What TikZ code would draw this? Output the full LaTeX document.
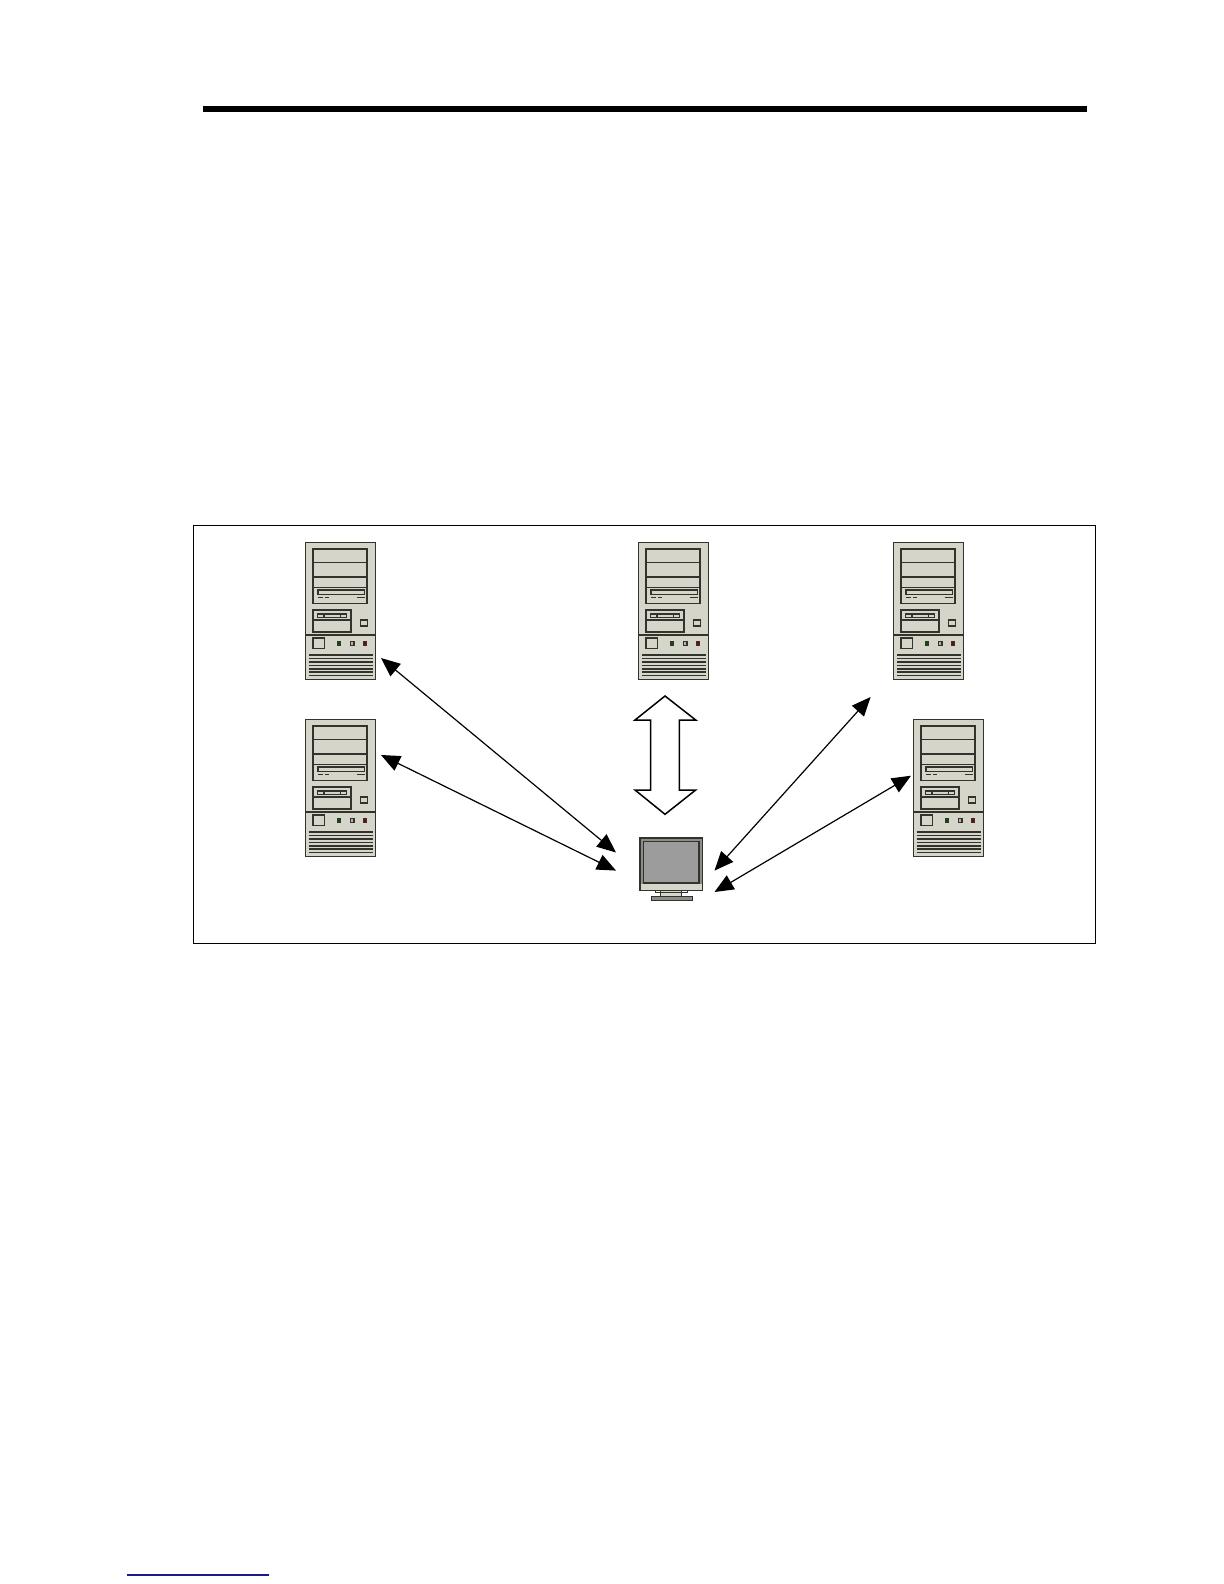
\documentclass[tikz,border=0pt]{standalone}
\usetikzlibrary{arrows.meta}
\definecolor{case}{HTML}{D5D5C9}
\definecolor{edge}{HTML}{33332E}
\definecolor{screen}{HTML}{9C9C9C}
\definecolor{bezel}{HTML}{8C8C88}
\definecolor{rulerblue}{HTML}{1A1A8C}
\tikzset{
  towerline/.style={draw=edge,line width=0.72pt},
  thinline/.style={draw=edge,line width=0.72pt},
  towerbox/.style={draw=edge,line width=0.9pt,fill=case},
  link/.style={draw=black,line width=0.6pt,{Triangle[length=9.5pt,width=8pt]}-{Triangle[length=9.5pt,width=8pt]}},
  bigarrow/.style={draw=black,line width=0.75pt,fill=white,line join=miter},
  anchorbox/.style={minimum width=35pt,minimum height=68.5pt,inner sep=0pt,outer sep=0pt,anchor=north west}
}
\newcommand{\towerat}[3]{%
  \node[anchorbox] (#3) at (#1,#2) {};
  \begin{scope}[shift={(#1,#2)}]
    \draw[towerbox] (0,0) rectangle (70,137);
    \draw[towerline] (7.3,6.7) rectangle (61.7,61);
    \draw[towerline] (7.3,20) -- (61.7,20) (7.3,34.3) -- (61.7,34.3) (7.3,45) -- (61.7,45);
    \draw[towerline,fill=case] (12.3,47.7) rectangle (59,52);
    \draw[thinline] (12,55) -- (17,55) (19,55) -- (23.5,55) (51,55) -- (59,55);
    \draw[towerline] (7.3,67.7) rectangle (45.7,89.3);
    \draw[towerline] (7.3,77.7) -- (45.7,77.7);
    \draw[towerline,fill=case] (12,71.5) rectangle (41,75);
    \draw[towerline,fill=case] (18.3,71.5) rectangle (35,75);
    \draw[towerline,fill=case] (55,77.7) rectangle (62,83.7);
    \draw[towerline] (0,92.7) -- (70,92.7);
    \draw[towerline] (7.3,95.3) rectangle (19,106);
    \fill[edge] (31,98.7) rectangle (35.5,103);
    \fill[green!35!black] (32.2,99.8) rectangle (34.3,102);
    \fill[edge] (44.5,98.7) rectangle (49,103);
    \fill[case!60!gray] (45.7,99.8) rectangle (47.8,102);
    \fill[edge] (57,98.7) rectangle (61.5,103);
    \fill[red!55!black] (58.2,99.8) rectangle (60.3,102);
    \foreach \yy in {112.7,116.1,119.5,122.9,126.3,129.7,133.1}
      \draw[towerline] (3.3,\yy) -- (67,\yy);
  \end{scope}%
}
\begin{document}
\begin{tikzpicture}[x=0.5pt,y=-0.5pt]
\useasboundingbox (0,0) rectangle (1224,1584);
\fill[white] (0,0) rectangle (1224,1584);
% page rules
\coordinate (ruleL) at (203,109);
\coordinate (ruleR) at (1087,109);
\draw[line width=2.6pt,black] (ruleL) -- (ruleR);
\coordinate (noteL) at (127,1575);
\coordinate (noteR) at (269,1575);
\draw[line width=0.6pt,rulerblue] (noteL) -- (noteR);
% frame
\node[draw=black,line width=0.45pt,minimum width=451pt,minimum height=209pt,inner sep=0pt,outer sep=0pt,anchor=north west] (frame) at (193,525) {};
% towers
\towerat{305.5}{542.5}{towerA}
\towerat{638.5}{542.5}{towerB}
\towerat{893.5}{542.5}{towerC}
\towerat{305.5}{719.5}{towerD}
\towerat{913.5}{719.5}{towerE}
% monitor
\node[draw=edge,line width=0.8pt,fill=bezel,minimum width=31.2pt,minimum height=26pt,inner sep=0pt,outer sep=0pt,anchor=north west] (monitor) at (640,838) {};
\fill[case] (641,884) rectangle (701.5,889.5);
\draw[draw=edge,line width=0.85pt,fill=screen] (643.6,841.5) rectangle (699.2,883);
\draw[draw=edge,line width=0.5pt,fill=case] (660,890) rectangle (681.6,896.7);
\draw[draw=edge,line width=0.5pt] (655,890) -- (655,892) -- (687,892) -- (687,890);
\draw[draw=edge,line width=0.6pt,fill=bezel] (651.7,896.7) rectangle (692.3,900.3);
% double hollow arrow
\node[inner sep=0pt,outer sep=0pt,minimum size=0pt] (bigarrowc) at (665,755) {};
\draw[bigarrow] (665,696) -- (695.7,720) -- (679.3,720) -- (679.3,790) -- (695.7,790)
  -- (665,814.3) -- (635,790) -- (650.7,790) -- (650.7,720) -- (635,720) -- cycle;
% connectors
\coordinate (a1) at (381,658);
\coordinate (a2) at (616,852.5);
\coordinate (b1) at (381,755);
\coordinate (b2) at (616,870.6);
\coordinate (c1) at (870.6,697);
\coordinate (c2) at (714.5,870.6);
\coordinate (d1) at (911,775.7);
\coordinate (d2) at (714.5,892);
\draw[link] (a1) -- (a2);
\draw[link] (b1) -- (b2);
\draw[link] (c1) -- (c2);
\draw[link] (d1) -- (d2);
\end{tikzpicture}
\end{document}
